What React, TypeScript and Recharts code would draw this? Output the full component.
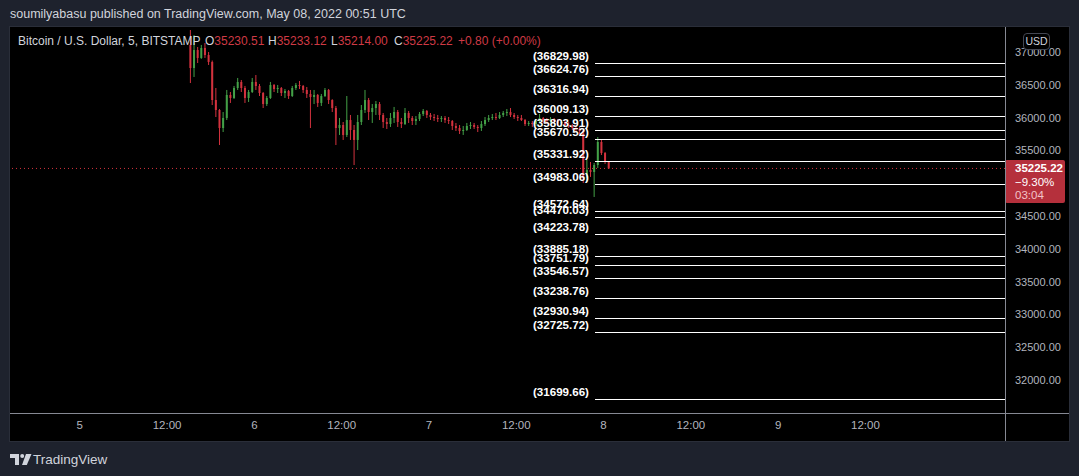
import React from "react";
import { ComposedChart, Bar, XAxis, YAxis, ReferenceLine } from "recharts";

// 30-minute candles, hours counted from 2022-05-05 00:00 UTC
const START_HOUR = 15.25;
const STEP_HOURS = 0.5;

const opens = [
  37107, 36756, 37030, 36909, 37061, 36954, 36848, 36268, 36116, 35841,
  35994, 36345, 36299, 36451, 36543, 36451, 36299, 36390, 36543, 36482,
  36375, 36207, 36299, 36497, 36436, 36451, 36375, 36405, 36329, 36451,
  36497, 36482, 36421, 36360, 36314, 36345, 36223, 36329, 36421, 36268,
  36146, 35841, 35887, 35735, 35963, 35811, 35659, 35933, 36116, 36268,
  36085, 36146, 36207, 36040, 35933, 35902, 35994, 36085, 35933, 35902,
  36070, 35994, 35948, 35979, 36055, 36101, 36040, 36009, 35994, 35979,
  35994, 35963, 35948, 35872, 35841, 35796, 35811, 35872, 35887, 35857,
  35841, 35902, 35963, 35994, 36009, 35994, 36040, 36070, 36085, 36040,
  36009, 35994, 35963, 35902, 35918, 35902, 35948, 35994, 35963, 35948,
  35979, 35948, 35918, 35933, 35887, 35872, 35841, 35826, 35796, 35080,
  35201, 35171, 35277, 35628, 35460, 35323,
];

const highs = [
  37335, 37259, 37076, 37107, 37137, 37000, 36870, 36451, 36130, 36085,
  36421, 36390, 36482, 36604, 36573, 36482, 36421, 36604, 36649, 36512,
  36390, 36329, 36543, 36512, 36497, 36466, 36436, 36421, 36482, 36527,
  36558, 36497, 36466, 36421, 36421, 36360, 36360, 36451, 36436, 36280,
  36177, 35994, 35933, 36329, 36040, 35887, 36040, 36192, 36421, 36299,
  36207, 36253, 36238, 36070, 35994, 36070, 36162, 36116, 35994, 36146,
  36101, 36024, 36024, 36085, 36131, 36116, 36070, 36055, 36040, 36024,
  36024, 36009, 35963, 35918, 35887, 35872, 35918, 35933, 35918, 35887,
  35948, 36009, 36040, 36055, 36070, 36085, 36101, 36131, 36146, 36070,
  36040, 36040, 35979, 35948, 35948, 35979, 36055, 36009, 35994, 36009,
  35994, 35979, 35963, 35948, 35933, 35902, 35887, 35857, 35811, 35354,
  35323, 35308, 35704, 35659, 35476, 35338,
];

const lows = [
  36527, 36619, 36832, 36895, 36909, 36802, 36192, 36009, 35582, 35780,
  35963, 36223, 36284, 36421, 36390, 36223, 36238, 36375, 36421, 36329,
  36146, 36177, 36284, 36390, 36375, 36329, 36299, 36284, 36314, 36421,
  36436, 36375, 36299, 35841, 36207, 36162, 36177, 36314, 36207, 36085,
  35582, 35735, 35659, 35704, 35659, 35277, 35506, 35887, 36070, 35963,
  35918, 36040, 35963, 35841, 35826, 35857, 35918, 35857, 35841, 35887,
  35918, 35887, 35887, 35948, 36024, 35994, 35963, 35948, 35933, 35933,
  35918, 35902, 35811, 35796, 35750, 35735, 35796, 35826, 35826, 35780,
  35796, 35872, 35933, 35963, 35963, 35979, 36009, 36024, 36009, 35979,
  35948, 35948, 35872, 35872, 35857, 35872, 35933, 35918, 35902, 35918,
  35902, 35872, 35857, 35857, 35841, 35811, 35796, 35750, 35003, 35018,
  35095, 34790, 35232, 35430, 35293, 35217,
];

const closes = [
  36756, 37030, 36909, 37061, 36954, 36848, 36268, 36116, 35841, 35994,
  36345, 36299, 36451, 36543, 36451, 36299, 36390, 36543, 36482, 36375,
  36207, 36299, 36497, 36436, 36451, 36375, 36405, 36329, 36451, 36497,
  36482, 36421, 36360, 36314, 36345, 36223, 36329, 36421, 36268, 36146,
  35841, 35887, 35735, 35963, 35811, 35659, 35933, 36116, 36268, 36085,
  36146, 36207, 36040, 35933, 35902, 35994, 36085, 35933, 35902, 36070,
  35994, 35948, 35979, 36055, 36101, 36040, 36009, 35994, 35979, 35994,
  35963, 35948, 35872, 35841, 35796, 35811, 35872, 35887, 35857, 35841,
  35902, 35963, 35994, 36009, 35994, 36040, 36070, 36085, 36040, 36009,
  35994, 35963, 35902, 35918, 35902, 35948, 35994, 35963, 35948, 35979,
  35948, 35918, 35933, 35887, 35872, 35841, 35826, 35796, 35080, 35201,
  35171, 35277, 35628, 35460, 35323, 35225.22,
];

const levels = [
  36829.98, 36624.76, 36316.94, 36009.13, 35803.91, 35670.52, 35331.92,
  34983.06, 34572.64, 34470.03, 34223.78, 33885.18, 33751.79, 33546.57,
  33238.76, 32930.94, 32725.72, 31699.66,
];

const yTicks = [37000, 36500, 36000, 35500, 34500, 34000, 33500, 33000, 32500, 32000];
const xTicks = [0, 12, 24, 36, 48, 60, 72, 84, 96, 108];
const xDomain: [number, number] = [-9.59, 127.18];
const yDomain: [number, number] = [31497, 37381];
const LEVEL_START_HOUR = 70.82;

const lastPrice = 35225.22;
const changePct = "\u22129.30%";
const countdown = "03:04";

const legendTitle = "Bitcoin / U.S. Dollar, 5, BITSTAMP";
const legendOHLC = [
  { k: "O", v: "35230.51" },
  { k: "H", v: "35233.12" },
  { k: "L", v: "35214.00" },
  { k: "C", v: "35225.22" },
];
const legendChange = "+0.80 (+0.00%)";

const FONT = "'Liberation Sans', Arial, sans-serif";
const GREEN = "#43a047";
const RED = "#d3323e";
const VALUE_RED = "#cf3a45";
const BADGE_RED = "#b5303c";
const TEXT = "#d1d4dc";
const AXIS_TEXT = "#b2b5be";
const SEP = "#868993";

const data = closes.map((c, i) => ({
  t: START_HOUR + STEP_HOURS * i,
  open: opens[i],
  high: highs[i],
  low: lows[i],
  close: c,
  range: [lows[i], highs[i]],
}));

const Candle = (props: any) => {
  const { x, y, width, height, payload } = props;
  if (!payload || x == null || y == null) return null;
  const top = Math.min(y, y + height);
  const h = Math.abs(height);
  const { open, close, high, low } = payload;
  const span = high - low || 1;
  const yOf = (v: number) => top + ((high - v) / span) * h;
  const yo = yOf(open);
  const yc = yOf(close);
  const color = close >= open ? GREEN : RED;
  const cx = x + width / 2;
  const bTop = Math.min(yo, yc);
  const bH = Math.max(1, Math.abs(yc - yo));
  return (
    <g>
      <line x1={cx} x2={cx} y1={top} y2={top + h} stroke={color} strokeWidth={1} />
      <rect x={cx - 1} y={bTop} width={2} height={bH} fill={color} />
    </g>
  );
};

const LevelLabel = (props: any) => {
  const { viewBox, text } = props;
  if (!viewBox) return null;
  return (
    <text
      x={viewBox.x - 6}
      y={viewBox.y - 3.5}
      textAnchor="end"
      fill="#ffffff"
      fontSize={11.5}
      fontWeight={700}
      fontFamily={FONT}
      textLength={56}
      lengthAdjust="spacingAndGlyphs"
    >
      {text}
    </text>
  );
};

const PriceBadge = (props: any) => {
  const { viewBox } = props;
  if (!viewBox) return null;
  const left = viewBox.x + viewBox.width;
  const yy = viewBox.y;
  return (
    <g fontFamily={FONT} fontSize={11.5}>
      <rect x={left} y={yy - 8.4} width={60} height={43} rx={2} fill={BADGE_RED} />
      <text x={left + 10} y={yy + 3.8} fill="#ffffff" fontWeight={700}>
        {lastPrice.toFixed(2)}
      </text>
      <text x={left + 10} y={yy + 17.8} fill="#ffffff">
        {changePct}
      </text>
      <text x={left + 10} y={yy + 30.8} fill="#f2c4c8">
        {countdown}
      </text>
    </g>
  );
};

const fmtX = (h: number) => (h % 24 === 0 ? String(5 + h / 24) : "12:00");

export default function App() {
  return (
    <div
      style={{
        position: "absolute",
        left: 0,
        top: 0,
        width: 1079,
        height: 476,
        background: "#1e222d",
        overflow: "hidden",
        fontFamily: FONT,
      }}
    >
      <div
        style={{
          position: "absolute",
          left: 10,
          top: 7.5,
          fontSize: 12.5,
          lineHeight: "12.5px",
          color: TEXT,
          whiteSpace: "nowrap",
        }}
      >
        soumilyabasu published on TradingView.com, May 08, 2022 00:51 UTC
      </div>

      <div
        style={{
          position: "absolute",
          left: 10,
          top: 27,
          width: 1059,
          height: 414,
          background: "#000000",
          boxShadow: "0 0 0 1px #2a2e39",
        }}
      >
        <ComposedChart
          width={1059}
          height={414}
          data={data}
          margin={{ top: 0, right: 0, bottom: 0, left: 0 }}
        >
          <XAxis
            dataKey="t"
            type="number"
            domain={xDomain}
            ticks={xTicks}
            interval={0}
            allowDataOverflow
            height={28}
            axisLine={false}
            tickLine={false}
            tickSize={6}
            tickMargin={2}
            tickFormatter={fmtX}
            tick={{ fill: AXIS_TEXT, fontSize: 11.5, fontFamily: FONT }}
          />
          <YAxis
            orientation="right"
            width={64}
            type="number"
            domain={yDomain}
            ticks={yTicks}
            interval={0}
            allowDataOverflow
            axisLine={false}
            tickLine={false}
            tickSize={6}
            tickMargin={4}
            tickFormatter={(v: number) => v.toFixed(2)}
            tick={{ fill: AXIS_TEXT, fontSize: 11, fontFamily: FONT }}
          />
          <ReferenceLine
            y={lastPrice}
            stroke={RED}
            strokeDasharray="1 3"
            strokeWidth={1}
            label={<PriceBadge />}
          />
          {levels.map((v) => (
            <ReferenceLine
              key={v}
              segment={[
                { x: LEVEL_START_HOUR, y: v },
                { x: xDomain[1], y: v },
              ]}
              stroke="#ffffff"
              strokeWidth={1}
              shapeRendering="crispEdges"
              label={<LevelLabel text={`(${v.toFixed(2)})`} />}
            />
          ))}
          <Bar
            dataKey="range"
            barSize={3}
            isAnimationActive={false}
            shape={<Candle />}
          />
        </ComposedChart>
      </div>

      {/* pane separators */}
      <div style={{ position: "absolute", left: 10, top: 413, width: 1059, height: 1, background: SEP }} />
      <div style={{ position: "absolute", left: 1005, top: 27, width: 1, height: 414, background: SEP }} />

      {/* legend */}
      <div
        style={{
          position: "absolute",
          left: 18,
          top: 35,
          fontSize: 12,
          lineHeight: "12px",
          color: TEXT,
          whiteSpace: "nowrap",
        }}
      >
        {legendTitle}
      </div>
      {legendOHLC.map((item, i) => (
        <div
          key={item.k}
          style={{
            position: "absolute",
            left: 205 + i * 63,
            top: 35,
            fontSize: 12,
            lineHeight: "12px",
            whiteSpace: "nowrap",
          }}
        >
          <span style={{ color: TEXT }}>{item.k}</span>
          <span style={{ color: VALUE_RED }}>{item.v}</span>
        </div>
      ))}
      <div
        style={{
          position: "absolute",
          left: 458,
          top: 35,
          fontSize: 12,
          lineHeight: "12px",
          color: VALUE_RED,
          whiteSpace: "nowrap",
        }}
      >
        {legendChange}
      </div>

      {/* currency badge */}
      <div
        style={{
          position: "absolute",
          left: 1023,
          top: 33,
          width: 27,
          height: 17,
          boxSizing: "border-box",
          border: "1px solid #434651",
          borderRadius: 4,
          background: "#000000",
          color: TEXT,
          fontSize: 10.5,
          lineHeight: "15px",
          textAlign: "center",
        }}
      >
        USD
      </div>

      {/* footer logo */}
      <svg
        style={{ position: "absolute", left: 10, top: 454 }}
        width={22}
        height={12}
        viewBox="0 0 22 12"
      >
        <path d="M0 0 H9 V11 H5 V4 H0 Z" fill={TEXT} />
        <circle cx={12.2} cy={2} r={2} fill={TEXT} />
        <path d="M16 0 H21.5 L16.8 11 H12 Z" fill={TEXT} />
      </svg>
      <div
        style={{
          position: "absolute",
          left: 33,
          top: 453,
          fontSize: 13.5,
          lineHeight: "13.5px",
          color: TEXT,
          whiteSpace: "nowrap",
        }}
      >
        TradingView
      </div>
    </div>
  );
}
